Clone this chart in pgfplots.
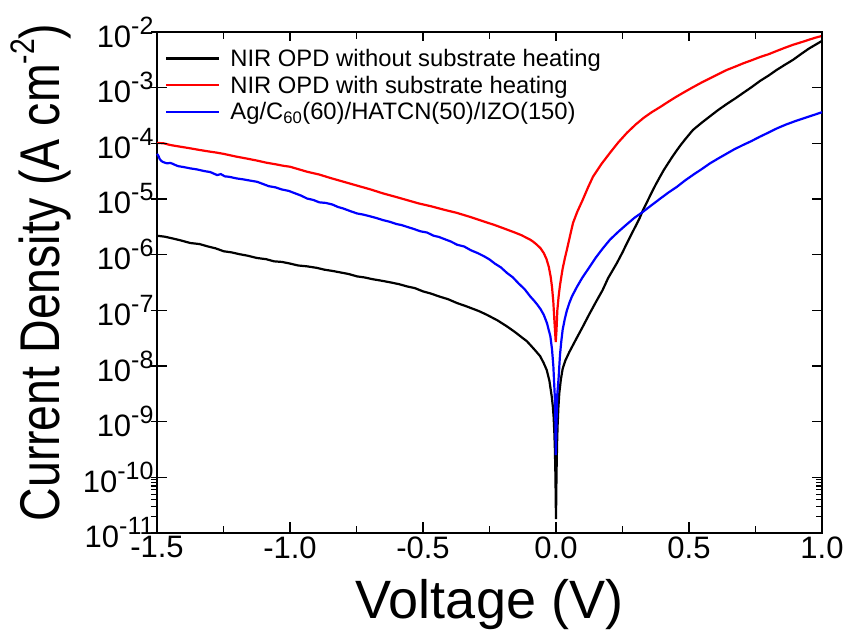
\documentclass[border=0pt]{standalone}
\usepackage{fontspec}
\setmainfont{Liberation Sans}
\newfontfamily\labelfont{Liberation Sans}[FakeStretch=0.83]
\usepackage{pgfplots}
\pgfplotsset{compat=1.18}
\newcommand{\dec}[1]{10\raisebox{0.42em}{\fontsize{25}{25}\selectfont #1}}
\tikzset{tkM/.style={black, line width=1.3pt}, tkm/.style={black, line width=1.1pt}}
\begin{document}
\begin{tikzpicture}
\begin{axis}[
  scale only axis, width=665pt, height=501pt,
  xmin=-1.5, xmax=1.0, ymin=1e-11, ymax=1e-2,
  ymode=log, log basis y=10, clip=false,
  xtick={-1.5,-1,-0.5,0,0.5,1},
  xticklabels={-1.5,-1.0,-0.5,0.0,0.5,1.0},
  ytick={1e-11,1e-10,1e-9,1e-8,1e-7,1e-6,1e-5,1e-4,1e-3,1e-2},
  yticklabels={\dec{-11},\dec{-10},\dec{-9},\dec{-8},\dec{-7},\dec{-6},\dec{-5},\dec{-4},\dec{-3},\dec{-2}},
  major tick length=0pt, minor tick length=0pt,
  xtick style={draw=none}, ytick style={draw=none},
  axis line style={line width=1.6pt},
  tick label style={font=\fontsize{31}{36}\selectfont},
  xlabel={Voltage (V)},
  ylabel={\labelfont Current Density (A cm\raisebox{0.45em}{\fontsize{34}{34}\selectfont -2})},
  xlabel style={font=\fontsize{54}{60}\selectfont, yshift=-14pt},
  ylabel style={font=\fontsize{56}{60}\selectfont, yshift=5pt, xshift=10pt},
  legend style={draw=none, fill=none, at={(axis description cs:0,1)}, anchor=north west,
    xshift=5pt, yshift=-13pt, font=\fontsize{23.8}{28}\selectfont, row sep=4pt, column sep=8pt},
  legend cell align=left,
  legend image code/.code={\draw[#1] (0pt,0pt) -- (53pt,0pt);},
  every axis plot/.append style={line width=2.2pt},
]
\addplot[black] coordinates {
(-1.500,2.19e-6) (-1.470,2.10e-6) (-1.440,1.95e-6) (-1.410,1.80e-6) (-1.375,1.62e-6)
(-1.340,1.55e-6) (-1.310,1.41e-6) (-1.280,1.30e-6) (-1.249,1.15e-6) (-1.220,1.10e-6)
(-1.190,1.02e-6) (-1.160,9.60e-7) (-1.124,8.71e-7) (-1.090,8.30e-7) (-1.060,7.59e-7)
(-1.030,7.40e-7) (-1.000,6.92e-7) (-0.970,6.40e-7) (-0.936,6.17e-7) (-0.900,5.80e-7)
(-0.870,5.37e-7) (-0.840,5.10e-7) (-0.810,4.79e-7) (-0.780,4.50e-7) (-0.748,4.07e-7)
(-0.720,3.90e-7) (-0.690,3.63e-7) (-0.655,3.40e-7) (-0.620,3.16e-7) (-0.590,2.95e-7)
(-0.560,2.69e-7) (-0.530,2.50e-7) (-0.500,2.19e-7) (-0.470,2.00e-7) (-0.440,1.78e-7)
(-0.405,1.58e-7) (-0.372,1.35e-7) (-0.345,1.22e-7) (-0.320,1.10e-7) (-0.290,9.70e-8)
(-0.260,8.32e-8) (-0.220,6.60e-8) (-0.184,5.13e-8) (-0.155,4.10e-8) (-0.130,3.31e-8)
(-0.110,2.80e-8) (-0.097,2.40e-8) (-0.080,1.95e-8) (-0.060,1.51e-8) (-0.047,1.15e-8)
(-0.035,8.51e-9) (-0.025,5.50e-9) (-0.016,2.82e-9) (-0.012,1.90e-9) (-0.009,1.23e-9)
(-0.006,6.00e-10) (-0.004,3.00e-10) (-0.002,1.00e-10) (-0.001,4.00e-11) (0.000,1.78e-11)
(0.001,5.00e-11) (0.002,1.20e-10) (0.004,4.00e-10) (0.006,8.50e-10) (0.009,1.80e-9)
(0.0124,3.24e-9) (0.018,5.60e-9) (0.025,8.90e-9) (0.035,1.25e-8) (0.050,1.78e-8)
(0.075,3.00e-8) (0.100,5.01e-8) (0.125,8.50e-8) (0.150,1.41e-7) (0.175,2.30e-7)
(0.196,3.80e-7) (0.229,7.08e-7) (0.250,1.10e-6) (0.267,1.62e-6) (0.285,2.40e-6)
(0.300,3.31e-6) (0.315,4.60e-6) (0.327,6.31e-6) (0.345,9.40e-6) (0.360,1.32e-5)
(0.375,1.82e-5) (0.391,2.51e-5) (0.405,3.30e-5) (0.420,4.27e-5) (0.437,5.70e-5)
(0.455,7.59e-5) (0.470,9.50e-5) (0.485,1.17e-4) (0.500,1.43e-4) (0.515,1.74e-4)
(0.545,2.29e-4) (0.580,3.09e-4) (0.610,3.98e-4) (0.643,5.13e-4) (0.675,6.46e-4)
(0.705,8.13e-4) (0.735,1.02e-3) (0.767,1.32e-3) (0.800,1.66e-3) (0.830,2.09e-3)
(0.860,2.57e-3) (0.891,3.16e-3) (0.920,3.98e-3) (0.950,5.01e-3) (0.975,5.89e-3)
(1.000,6.92e-3)
};
\addlegendentry{NIR OPD without substrate heating}
\addplot[red] coordinates {
(-1.500,1.02e-4) (-1.475,1.00e-4) (-1.450,9.33e-5) (-1.425,8.90e-5) (-1.400,8.51e-5)
(-1.375,8.13e-5) (-1.340,7.60e-5) (-1.300,7.08e-5) (-1.275,6.80e-5) (-1.249,6.46e-5)
(-1.225,6.10e-5) (-1.200,5.75e-5) (-1.160,5.30e-5) (-1.124,4.90e-5) (-1.090,4.50e-5)
(-1.050,4.17e-5) (-1.025,3.95e-5) (-1.000,3.80e-5) (-0.970,3.45e-5) (-0.936,3.09e-5)
(-0.890,2.75e-5) (-0.850,2.40e-5) (-0.800,2.05e-5) (-0.748,1.74e-5) (-0.700,1.50e-5)
(-0.650,1.26e-5) (-0.605,1.10e-5) (-0.560,9.55e-6) (-0.515,8.30e-6) (-0.470,7.41e-6)
(-0.420,6.40e-6) (-0.372,5.62e-6) (-0.325,4.80e-6) (-0.280,4.07e-6) (-0.230,3.40e-6)
(-0.184,2.82e-6) (-0.155,2.50e-6) (-0.130,2.24e-6) (-0.110,2.00e-6) (-0.097,1.86e-6)
(-0.085,1.70e-6) (-0.072,1.51e-6) (-0.058,1.30e-6) (-0.046,1.07e-6) (-0.036,8.40e-7)
(-0.027,6.03e-7) (-0.020,4.00e-7) (-0.015,2.63e-7) (-0.010,1.40e-7) (-0.006,6.50e-8)
(-0.003,3.80e-8) (-0.001,2.69e-8) (0.002,4.50e-8) (0.005,1.00e-7) (0.010,1.80e-7)
(0.015,2.82e-7) (0.020,4.00e-7) (0.025,5.62e-7) (0.033,8.50e-7) (0.041,1.23e-6)
(0.052,2.10e-6) (0.064,3.72e-6) (0.080,5.90e-6) (0.100,9.55e-6) (0.120,1.60e-5)
(0.139,2.51e-5) (0.170,4.20e-5) (0.203,6.76e-5) (0.235,1.05e-4) (0.267,1.55e-4)
(0.300,2.19e-4) (0.330,2.88e-4) (0.360,3.63e-4) (0.391,4.47e-4) (0.420,5.50e-4)
(0.450,6.76e-4) (0.480,8.20e-4) (0.515,1.02e-3) (0.545,1.22e-3) (0.580,1.48e-3)
(0.610,1.75e-3) (0.643,2.09e-3) (0.675,2.40e-3) (0.705,2.75e-3) (0.735,3.10e-3)
(0.767,3.55e-3) (0.800,4.00e-3) (0.830,4.57e-3) (0.860,5.20e-3) (0.891,5.89e-3)
(0.920,6.50e-3) (0.950,7.24e-3) (0.975,7.90e-3) (1.000,8.51e-3)
};
\addlegendentry{NIR OPD with substrate heating}
\addplot[blue] coordinates {
(-1.500,6.46e-5) (-1.495,6.00e-5) (-1.490,5.25e-5) (-1.485,4.90e-5) (-1.480,4.68e-5)
(-1.471,4.50e-5) (-1.462,4.37e-5) (-1.450,4.45e-5) (-1.440,4.27e-5) (-1.430,4.05e-5)
(-1.420,3.89e-5) (-1.400,3.75e-5) (-1.375,3.55e-5) (-1.350,3.40e-5) (-1.320,3.16e-5)
(-1.300,3.05e-5) (-1.274,2.69e-5) (-1.260,2.80e-5) (-1.245,2.55e-5) (-1.230,2.51e-5)
(-1.200,2.34e-5) (-1.175,2.25e-5) (-1.150,2.14e-5) (-1.124,2.04e-5) (-1.100,1.85e-5)
(-1.080,1.70e-5) (-1.055,1.62e-5) (-1.030,1.48e-5) (-1.005,1.40e-5) (-0.980,1.26e-5)
(-0.958,1.15e-5) (-0.936,1.02e-5) (-0.912,9.60e-6) (-0.890,8.71e-6) (-0.865,8.50e-6)
(-0.840,7.94e-6) (-0.820,7.20e-6) (-0.800,6.76e-6) (-0.775,6.10e-6) (-0.748,5.50e-6)
(-0.725,5.25e-6) (-0.700,4.90e-6) (-0.675,4.55e-6) (-0.650,4.17e-6) (-0.625,3.90e-6)
(-0.600,3.55e-6) (-0.580,3.40e-6) (-0.560,3.16e-6) (-0.535,2.90e-6) (-0.510,2.63e-6)
(-0.485,2.50e-6) (-0.460,2.19e-6) (-0.440,2.08e-6) (-0.420,1.91e-6) (-0.395,1.72e-6)
(-0.372,1.51e-6) (-0.345,1.40e-6) (-0.320,1.20e-6) (-0.295,1.07e-6) (-0.270,9.33e-7)
(-0.250,8.20e-7) (-0.230,6.92e-7) (-0.207,5.90e-7) (-0.184,4.68e-7) (-0.162,3.90e-7)
(-0.140,3.02e-7) (-0.118,2.40e-7) (-0.097,1.78e-7) (-0.083,1.50e-7) (-0.070,1.26e-7)
(-0.058,1.05e-7) (-0.046,8.32e-8) (-0.034,5.90e-8) (-0.021,3.39e-8) (-0.015,2.00e-8)
(-0.010,1.00e-8) (-0.007,5.00e-9) (-0.004,2.51e-9) (-0.002,8.00e-10) (-0.001,2.51e-10)
(0.001,6.00e-10) (0.002,1.00e-9) (0.005,3.16e-9) (0.010,6.31e-9) (0.015,1.58e-8)
(0.020,2.80e-8) (0.025,4.47e-8) (0.033,7.00e-8) (0.041,1.00e-7) (0.050,1.35e-7)
(0.060,1.78e-7) (0.078,2.60e-7) (0.098,3.80e-7) (0.125,5.90e-7) (0.150,8.91e-7)
(0.175,1.28e-6) (0.203,1.86e-6) (0.235,2.60e-6) (0.265,3.47e-6) (0.295,4.60e-6)
(0.327,5.89e-6) (0.360,7.80e-6) (0.390,1.00e-5) (0.420,1.28e-5) (0.455,1.66e-5)
(0.485,2.15e-5) (0.517,2.75e-5) (0.550,3.50e-5) (0.579,4.37e-5) (0.610,5.35e-5)
(0.640,6.46e-5) (0.670,7.80e-5) (0.703,9.33e-5) (0.735,1.10e-4) (0.767,1.32e-4)
(0.800,1.57e-4) (0.831,1.86e-4) (0.865,2.18e-4) (0.900,2.51e-4) (0.925,2.75e-4)
(0.950,3.02e-4) (0.975,3.30e-4) (1.000,3.63e-4)
};
\addlegendentry{Ag/C\textsubscript{60}(60)/HATCN(50)/IZO(150)}
% axis ticks, placed by offsets along the axis box
\pgfplotsinvokeforeach{0,133,266,399,532,665}{
  \draw[tkM] ([xshift=#1pt]rel axis cs:0,0) -- ++(0pt,11pt);
  \draw[tkM] ([xshift=#1pt]rel axis cs:0,1) -- ++(0pt,-9pt);
}
\pgfplotsinvokeforeach{66.5,199.5,332.5,465.5,598.5}{
  \draw[tkm] ([xshift=#1pt]rel axis cs:0,0) -- ++(0pt,7pt);
  \draw[tkm] ([xshift=#1pt]rel axis cs:0,1) -- ++(0pt,-7pt);
}
\pgfplotsinvokeforeach{0,55.667,111.333,167,222.667,278.333,334,389.667,445.333,501}{
  \draw[tkM] ([xshift=-6pt,yshift=#1pt]rel axis cs:0,0) -- ++(16pt,0pt);
  \draw[tkM] ([yshift=#1pt]rel axis cs:1,0) -- ++(-10pt,0pt);
}
\pgfplotsinvokeforeach{0,55.667,111.333,167,222.667,278.333,334,389.667,445.333}{
  \pgfplotsinvokeforeach{16.757,26.560,33.515,38.910,43.317,47.044,50.272,53.120}{
    \draw[tkm] ([xshift=-6pt,yshift={#1pt+##1pt}]rel axis cs:0,0) -- ++(6pt,0pt);
    \draw[tkm] ([yshift={#1pt+##1pt}]rel axis cs:1,0) -- ++(-6pt,0pt);
  }
}
\end{axis}
\path ([shift={(-157pt,-97pt)}]current axis.south west) rectangle ([shift={(26pt,32pt)}]current axis.north east);
\end{tikzpicture}
\end{document}
